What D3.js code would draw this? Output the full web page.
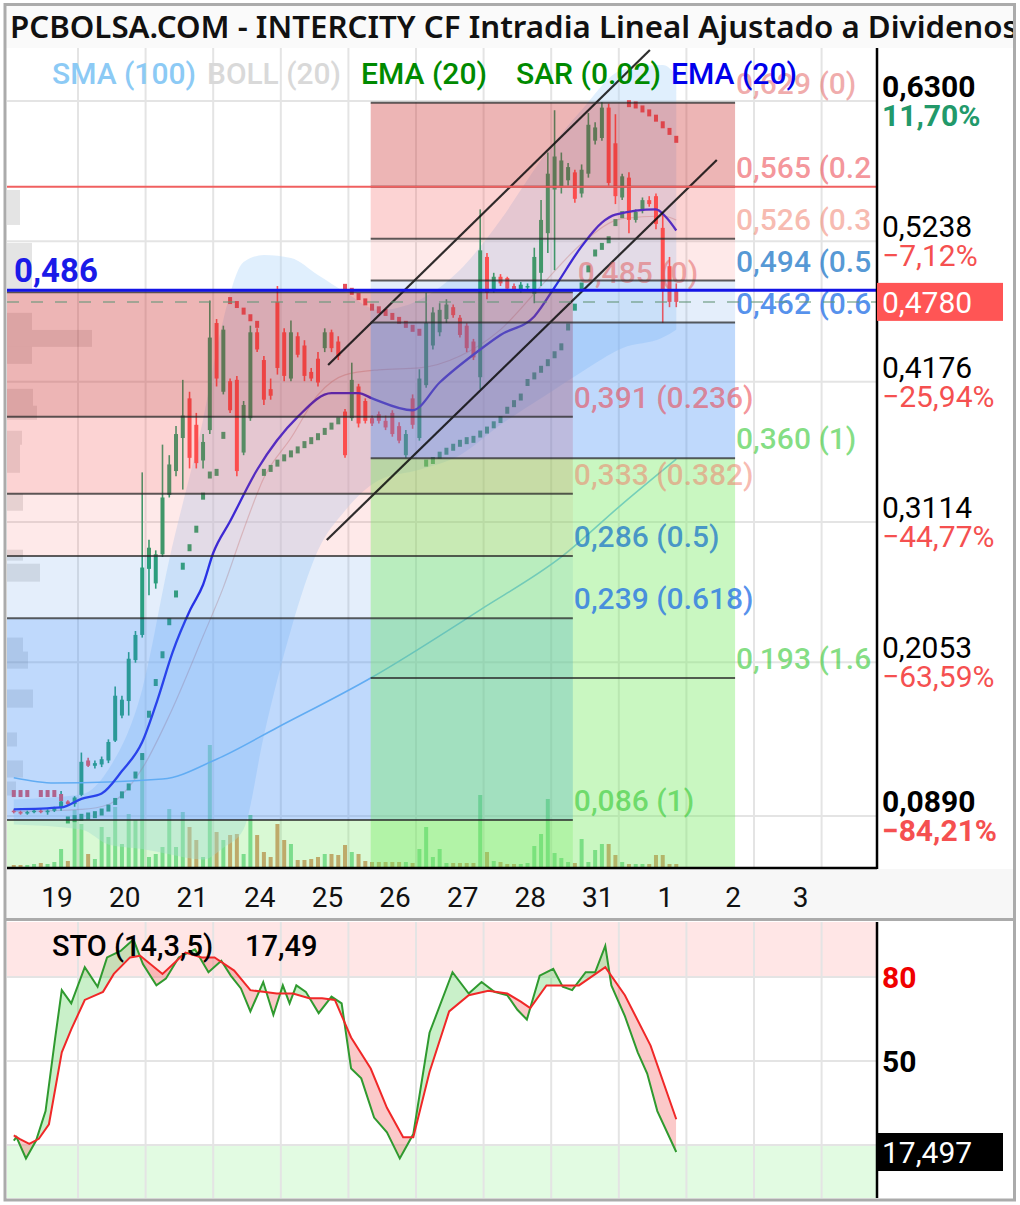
<!DOCTYPE html>
<html>
<head>
<meta charset="utf-8">
<script src="https://cdn.jsdelivr.net/npm/d3@7"></script>
<style>
body { margin: 0; background: #fff; }
svg { display: block; font-family: Roboto, sans-serif; }
</style>
</head>
<body>
<div id="chart"></div>
<script>
var days = ["19", "20", "21", "24", "25", "26", "27", "28", "31", "1", "2", "3"];

// intraday bars, 10 per day
var open = [.093,.092,.091,.092,.093,.092,.093,.095,.100,.098, .105,.131,.127,.128,.131,.146,.165,.176,.207,.226,
  .276,.265,.287,.332,.350,.375,.405,.385,.358,.381, .462,.410,.418,.419,.364,.390,.455,.434,.412,.478,
  .455,.420,.452,.445,.425,.435,.443,.455,.448,.395, .390,.414,.403,.390,.393,.388,.394,.384,.362,.405,
  .375,.415,.445,.455,.465,.474,.466,.460,.448,.421, .512,.487,.497,.496,.490,.487,.489,.484,.500,.530,
  .563,.565,.570,.576,.560,.575,.600,.602,.625,.598, .557,.572,.540,.548,.555,.558,.534,.505,.487];
var high = [.094,.093,.093,.094,.095,.094,.096,.108,.101,.104, .137,.133,.131,.134,.147,.187,.180,.213,.229,.349,
  .298,.290,.370,.362,.384,.419,.410,.394,.378,.479, .465,.460,.420,.422,.403,.460,.458,.437,.420,.490,
  .458,.464,.455,.449,.428,.440,.458,.457,.452,.397, .432,.416,.405,.392,.395,.392,.396,.387,.381,.408,
  .427,.485,.474,.477,.480,.476,.468,.462,.450,.548, .515,.500,.499,.497,.492,.493,.492,.519,.555,.591,
  .623,.591,.583,.578,.582,.621,.614,.629,.628,.620, .575,.576,.548,.557,.558,.560,.545,.512,.492];
var low = [.091,.090,.090,.091,.091,.090,.092,.093,.097,.096, .104,.126,.125,.126,.129,.145,.163,.165,.205,.224,
  .256,.261,.285,.330,.346,.336,.352,.352,.352,.378, .414,.408,.394,.346,.362,.388,.440,.400,.404,.423,
  .418,.418,.436,.418,.418,.414,.440,.440,.434,.360, .388,.383,.386,.384,.386,.381,.376,.371,.360,.382,
  .373,.413,.442,.452,.462,.466,.451,.440,.434,.412, .480,.485,.490,.487,.486,.485,.487,.477,.490,.515,
  .502,.560,.566,.553,.557,.572,.597,.600,.566,.552, .555,.530,.538,.545,.550,.533,.462,.474,.474];
var close = [.092,.091,.092,.093,.092,.093,.095,.100,.098,.103, .130,.127,.129,.132,.145,.180,.177,.208,.226,.277,
  .292,.287,.330,.355,.378,.392,.360,.356,.372,.451, .420,.457,.396,.350,.400,.455,.442,.404,.407,.428,
  .422,.455,.438,.422,.420,.417,.455,.443,.437,.362, .419,.386,.388,.386,.388,.383,.378,.373,.378,.385,
  .420,.462,.470,.472,.476,.468,.453,.443,.436,.517, .485,.497,.492,.488,.487,.491,.490,.512,.540,.575,
  .588,.585,.580,.556,.578,.612,.610,.625,.568,.558, .573,.540,.546,.555,.552,.537,.487,.478,.478];
var volume = [2,2,2,3,4,3,5,18,6,57, 43,13,8,40,30,60,23,53,47,113, 10,13,20,58,20,55,40,27,10,122,
  35,27,32,33,13,52,32,15,10,43, 27,23,7,7,8,10,13,13,12,22, 15,13,6,5,5,5,5,5,5,4,
  18,40,10,18,4,4,4,4,4,72, 15,6,5,3,3,3,4,21,33,68, 14,9,5,4,28,5,17,23,23,12, 5,3,3,3,3,12,12,3,3];
var sar = [.106,.106,.106,null,.106,.106,.106,.103,.086,.087, .088,.089,.090,.092,.095,.100,.105,.111,.120,.134,
  .166,.190,.211,.236,.257,.278,.292,.306,.331,.347, .349,.377,.479,.476,.471,.466,.461,.349,.352,.356,
  .360,.363,.366,.370,.373,.376,.380,.384,.388,.489, .486,.482,.478,.474,.472,.470,.467,.464,.461,.458,
  .455,.356,.358,.362,.365,.368,.371,.373,.374,.378, .381,.385,.389,.396,.401,.406,.417,.422,.427,.432,
  .438,.444,.459,.474,.490,.503,.515,.520,.525,.538, .544,.628,.627,.624,.621,.617,.612,.607,.601];

// indicator lines (bar index, price)
var emaIdx = [0,7,10,13,16,19,21.2,23.5,26.1,28,29.5,32,36,42,47,51,53,59,63,69,72,77,80,84,87,89,95,96.5,98];
var emaVal = [.094,.0955,.102,.106,.123,.145,.176,.213,.245,.264,.288,.312,.351,.391,.409,.409,.405,.396,.417,.442,.453,.467,.489,.520,.538,.544,.548,.542,.532];
var smaIdx = [0,6,22,30,39,53,69,81,90,98];
var smaVal = [.118,.114,.117,.132,.156,.194,.245,.285,.325,.359];
var bbIdx = [0,10,14,19,23,28,31,34,37,41,45,49,54,60,66,72,78,84,90,96,98];
var bbUp = [.1015,.1053,.1242,.1847,.2829,.3888,.4644,.5082,.5135,.5113,.4984,.4855,.4719,.4795,.5022,.5400,.5853,.6231,.6534,.6572,.6496];
var bbMid = [.0924,.094,.0977,.125,.165,.225,.262,.3056,.345,.375,.4077,.4228,.4266,.428,.437,.457,.490,.522,.541,.543,.540];
var bbLow = [.0826,.0788,.0675,.064,.060,.056,.065,.079,.150,.230,.290,.320,.343,.351,.362,.385,.405,.425,.443,.451,.457];

// volume by price (left edge)
var vpLo = [.5362,.4871,.4568,.4440,.4311,.3994,.3888,.3699,.3487,.3200,.2822,.2663,.2134,.2005,.1710,.1416,.1181,.1045];
var vpHi = [.5627,.5226,.4697,.4568,.4440,.4122,.3994,.3805,.3699,.3328,.2905,.2799,.2240,.2134,.1847,.1522,.1310,.1151];
var vpLen = [13,25,25,85,25,26,30,15,13,16,16,33,16,21,26,10,16,9];

// fibonacci retracements
var fibRatios = [0, 0.236, 0.382, 0.5, 0.618, 1, 1.618];
var fibHigh = [0.4853, 0.6286];
var fibLow = [0.086, 0.3596];
var fibCount = [6, 7];
var fibFrom = [-1, 52.8];
var fibTo = [82.7, 106.7];

// trend channel
var chanIdx0 = [46.5, 46.3], chanVal0 = [0.4302, 0.2978];
var chanIdx1 = [94.1, 104.0], chanVal1 = [0.6686, 0.5854];

var hLineVal = [0.486, 0.5651];
var lastPrice = 0.478;

var yTicks = [0.6300, 0.5238, 0.4176, 0.3114, 0.2053, 0.0890];
var yPct = [11.70, -7.12, -25.94, -44.77, -63.59, -84.21];

// stochastic (bar index, value)
var kIdx = [0,0.4,1.8,3.3,4.7,6.1,7.1,8.5,10.5,12.4,13.8,15.8,17.7,19.1,21.1,22.5,24.4,26.8,28.8,30.7,32.1,33.6,35,36.9,38.4,39.8,40.8,41.8,43.2,45.1,47,48.5,49.9,51.4,53.3,55.2,57.1,59.1,61.5,64.9,67.3,69.2,71.1,73,74.5,75.9,77.8,79.8,81.2,82.6,84.6,86,87.5,88.4,90.4,92.3,93.7,95.2,98];
var kVal = [21.6,22.8,15.2,21.6,32.1,57.8,75.3,70.6,83.5,76.5,87.0,89.3,93.4,84.6,77.0,79.4,87.0,89.9,81.7,85.8,80.5,75.9,67.7,78.2,66.5,77.0,70.6,77.0,74.7,67.1,73.0,70.6,47.3,43.8,29.8,24.5,15.2,23.9,60.1,81.7,74.1,78.2,74.7,73.5,68.3,64.8,80.5,82.9,76.5,75.3,81.7,81.7,91.1,77.0,66.0,53.1,45.5,32.1,17.497];
var dIdx = [0,0.85,2.3,3.7,5.2,7.1,8.5,10.5,13.2,14.8,17.2,18.7,22,25.4,27.8,29.7,32.6,35,36.9,38.9,41.3,43.7,45.6,47.5,49.9,52.8,55.2,57.6,59.1,61.5,64.4,67.3,70.2,73,75,76.4,78.8,81.2,83.6,87.5,90.4,94.2,98];
var dVal = [23.4,22.2,20.4,22.2,27.4,53.1,61.3,71.8,74.7,81.1,87.0,87.6,81.1,88.7,87.0,87.0,82.3,75.3,74.7,74.1,74.1,72.4,72.4,71.8,58.4,47.3,33.3,22.8,22.8,46.1,67.7,73.5,75.1,74.1,71.2,68.9,77.0,77.0,77.0,83.5,73.5,55.5,29.2];
var stoTicks = [80, 50, 20];

// ---- layout
var width = 1020, height = 1205;
var plotL = 7, plotR = 877, plotT = 48, plotB = 868;
var stT = 922, stB = 1198;

var zoneFill = ["rgba(205,50,50,0.36)", "rgba(245,80,80,0.25)", "rgba(245,100,100,0.14)",
  "rgba(90,150,230,0.16)", "rgba(60,140,245,0.33)", "rgba(120,235,100,0.4)"];
var tailFill = ["rgba(120,235,100,0.28)", "rgba(120,235,100,0.4)"];
var labelColor = ["rgba(225,90,90,0.5)", "rgba(235,60,70,0.55)", "rgba(240,120,100,0.5)",
  "rgba(30,120,200,0.75)", "rgba(30,110,230,0.75)", "rgba(50,200,50,0.6)", "rgba(50,200,50,0.6)"];
var upColor = "#22a06b", downColor = "#ff4d4d";

var comma = function (s) { return s.replace(".", ","); };

var x = d3.scaleLinear().domain([-0.5, 119.5]).range([10.4, 821.6]);
var y = d3.scaleLinear().domain([0.0890, 0.6300]).range([816, 101]);
var yv = d3.scaleLinear().domain([0, 125]).range([867, 742]);
var ys = d3.scaleLinear().domain([0, 100]).range([1201, 921]);

var svg = d3.select("#chart").append("svg").attr("width", width).attr("height", height);
var defs = svg.append("defs");
defs.append("clipPath").attr("id", "clipMain").append("rect")
  .attr("x", plotL).attr("y", plotT).attr("width", plotR - plotL).attr("height", plotB - plotT);
defs.append("clipPath").attr("id", "clipSto").append("rect")
  .attr("x", plotL).attr("y", stT).attr("width", plotR - plotL).attr("height", stB - stT);
defs.append("clipPath").attr("id", "clipTitle").append("rect")
  .attr("x", 5).attr("y", 5).attr("width", 1008).attr("height", 43);

svg.append("rect").attr("width", width).attr("height", height).attr("fill", "#fff");
svg.append("rect").attr("x", 5).attr("y", 5).attr("width", 1010).attr("height", 43).attr("fill", "#fafafa");
svg.append("rect").attr("x", plotL).attr("y", 869).attr("width", 1007).attr("height", 49).attr("fill", "#f7f7f7");

var main = svg.append("g").attr("clip-path", "url(#clipMain)");

// grid
var dayLines = d3.range(1, 13).map(function (k) { return x(10 * k - 0.5); });
main.selectAll(".vg").data(dayLines).enter().append("line")
  .attr("x1", function (d) { return d; }).attr("x2", function (d) { return d; })
  .attr("y1", plotT).attr("y2", plotB).attr("stroke", "#e4e4e4").attr("stroke-width", 2);
main.selectAll(".hg").data(yTicks).enter().append("line")
  .attr("x1", plotL).attr("x2", plotR)
  .attr("y1", function (d) { return y(d); }).attr("y2", function (d) { return y(d); })
  .attr("stroke", "#e4e4e4").attr("stroke-width", 2);

// volume by price
main.selectAll(".vp").data(vpLen).enter().append("rect")
  .attr("x", plotL).attr("width", function (d) { return d; })
  .attr("y", function (d, i) { return y(vpHi[i]); })
  .attr("height", function (d, i) { return y(vpLo[i]) - y(vpHi[i]); })
  .attr("fill", "rgba(120,120,120,0.2)");

// volume
main.selectAll(".vol").data(volume).enter().append("rect")
  .attr("x", function (d, i) { return x(i) - 2; }).attr("width", 4)
  .attr("y", function (d) { return yv(d); })
  .attr("height", function (d) { return yv(0) - yv(d); })
  .attr("fill", function (d, i) { return close[i] >= open[i] ? "rgba(40,190,90,0.6)" : "rgba(205,110,60,0.75)"; });

// bollinger
var bbArea = d3.area().curve(d3.curveMonotoneX)
  .x(function (d) { return x(d); })
  .y0(function (d, i) { return y(bbLow[i]); })
  .y1(function (d, i) { return y(bbUp[i]); });
main.append("path").attr("d", bbArea(bbIdx)).attr("fill", "rgba(180,218,250,0.42)");
main.append("path")
  .attr("d", d3.line().curve(d3.curveMonotoneX).x(function (d) { return x(d); })
    .y(function (d, i) { return y(bbMid[i]); })(bbIdx))
  .attr("fill", "none").attr("stroke", "rgba(190,130,130,0.4)").attr("stroke-width", 1.2);

// candles
var candle = main.selectAll(".c").data(close).enter().append("g");
candle.append("line")
  .attr("x1", function (d, i) { return x(i); }).attr("x2", function (d, i) { return x(i); })
  .attr("y1", function (d, i) { return y(high[i]); }).attr("y2", function (d, i) { return y(low[i]); })
  .attr("stroke", function (d, i) { return d >= open[i] ? upColor : downColor; })
  .attr("stroke-width", 1.6);
candle.append("rect")
  .attr("x", function (d, i) { return x(i) - 2; }).attr("width", 4)
  .attr("y", function (d, i) { return y(Math.max(d, open[i])); })
  .attr("height", function (d, i) { return Math.max(1.5, Math.abs(y(d) - y(open[i]))); })
  .attr("fill", function (d, i) { return d >= open[i] ? upColor : downColor; });

// parabolic SAR
sar.forEach(function (s, i) {
  if (s === null) return;
  main.append("rect").attr("x", x(i) - 2).attr("y", y(s) - 3.5).attr("width", 4).attr("height", 7)
    .attr("fill", s > close[i] ? "#e8505a" : "#2e9e6e");
});

// moving averages
var lineOf = function (idx, val) {
  return d3.line().curve(d3.curveMonotoneX)
    .x(function (d) { return x(d); }).y(function (d, i) { return y(val[i]); })(idx);
};
main.append("path").attr("d", lineOf(smaIdx, smaVal))
  .attr("fill", "none").attr("stroke", "#74bdf2").attr("stroke-width", 1.6);
main.append("path").attr("d", lineOf(emaIdx, emaVal))
  .attr("fill", "none").attr("stroke", "#2020e6").attr("stroke-width", 2.3);

// fibonacci zones
fibHigh.forEach(function (hi, f) {
  var lo = fibLow[f];
  var lv = fibRatios.slice(0, fibCount[f]).map(function (r) { return hi - r * (hi - lo); });
  var x0 = x(fibFrom[f]), x1 = x(fibTo[f]);
  for (var k = 0; k < lv.length - 1; k++) {
    main.append("rect").attr("x", x0).attr("width", x1 - x0)
      .attr("y", y(lv[k])).attr("height", y(lv[k + 1]) - y(lv[k])).attr("fill", zoneFill[k]);
  }
  main.append("rect").attr("x", x0).attr("width", x1 - x0)
    .attr("y", y(lv[lv.length - 1])).attr("height", plotB - y(lv[lv.length - 1])).attr("fill", tailFill[f]);
});

// channel
[0, 1].forEach(function (c) {
  main.append("line")
    .attr("x1", x(chanIdx0[c])).attr("y1", y(chanVal0[c]))
    .attr("x2", x(chanIdx1[c])).attr("y2", y(chanVal1[c]))
    .attr("stroke", "rgba(10,10,10,0.85)").attr("stroke-width", 2.2);
});

// fib lines + labels (labels cut at the price axis, like the original)
fibHigh.forEach(function (hi, f) {
  var lo = fibLow[f];
  var x0 = x(fibFrom[f]), x1 = x(fibTo[f]);
  fibRatios.slice(0, fibCount[f]).forEach(function (r, k) {
    var v = hi - r * (hi - lo);
    main.append("line").attr("x1", x0).attr("x2", x1).attr("y1", y(v)).attr("y2", y(v))
      .attr("stroke", "rgba(40,40,40,0.75)").attr("stroke-width", 2);
    var lx = x1 + 1 + (r === 0 && f === 0 ? 4 : 0);
    var str = comma(d3.format(".3f")(v)) + " (" + r + ")";
    var t = main.append("text").attr("x", lx).attr("y", y(v) - 9)
      .attr("font-size", 30).attr("font-weight", 500).attr("fill", labelColor[k]).text(str);
    while (str.length > 1 && lx + t.node().getComputedTextLength() > plotR + 4) {
      str = str.slice(0, -1);
      t.text(str);
    }
  });
});

// dashed last price
main.append("line").attr("x1", plotL).attr("x2", plotR).attr("y1", y(lastPrice)).attr("y2", y(lastPrice))
  .attr("stroke", "rgba(100,150,120,0.55)").attr("stroke-width", 2).attr("stroke-dasharray", "12,12");

// horizontal lines
main.append("line").attr("x1", plotL).attr("x2", plotR).attr("y1", y(hLineVal[1])).attr("y2", y(hLineVal[1]))
  .attr("stroke", "#f06060").attr("stroke-width", 2);
main.append("line").attr("x1", plotL).attr("x2", plotR).attr("y1", y(hLineVal[0]) - 1).attr("y2", y(hLineVal[0]) - 1)
  .attr("stroke", "#1414e6").attr("stroke-width", 3);
main.append("text").attr("x", 14).attr("y", y(hLineVal[0]) - 9)
  .attr("font-size", 33).attr("font-weight", 700).attr("fill", "#1a1ae8")
  .text(comma(d3.format(".3f")(hLineVal[0])));

// legend
var legend = [
  { t: "SMA (100)", c: "#8ccaf5", x: 52, w: 144 },
  { t: "BOLL (20)", c: "#d9d9d9", x: 207, w: 134 },
  { t: "EMA (20)", c: "#008a00", x: 361, w: 126 },
  { t: "SAR (0.02)", c: "#008a00", x: 516, w: 145 },
  { t: "EMA (20)", c: "#0000eb", x: 671, w: 126 }
];
svg.selectAll(".lg").data(legend).enter().append("text")
  .attr("x", function (d) { return d.x; }).attr("y", 84)
  .attr("font-size", 30).attr("font-weight", 500)
  .attr("textLength", function (d) { return d.w; }).attr("lengthAdjust", "spacingAndGlyphs")
  .attr("fill", function (d) { return d.c; }).text(function (d) { return d.t; });

// axes frame
svg.append("line").attr("x1", plotL).attr("x2", plotR).attr("y1", plotB).attr("y2", plotB)
  .attr("stroke", "#000").attr("stroke-width", 2.5);
svg.append("line").attr("x1", plotR).attr("x2", plotR).attr("y1", plotT).attr("y2", plotB + 1)
  .attr("stroke", "#000").attr("stroke-width", 2.5);

// right axis labels
yTicks.forEach(function (t, i) {
  var bold = i === 0 || i === yTicks.length - 1;
  svg.append("text").attr("x", 882).attr("y", y(t) - 4).attr("font-size", 30)
    .attr("font-weight", bold ? 700 : 400).attr("fill", "#000")
    .text(comma(d3.format(".4f")(t)));
  svg.append("text").attr("x", 882).attr("y", y(t) + 25).attr("font-size", 30)
    .attr("font-weight", bold ? 700 : 400).attr("fill", yPct[i] >= 0 ? "#22996a" : "#f55050")
    .text(comma(d3.format(".2f")(yPct[i])) + "%");
});
svg.append("rect").attr("x", plotR).attr("y", y(lastPrice) - 19).attr("width", 126).attr("height", 38)
  .attr("fill", "#ff5555");
svg.append("text").attr("x", 882).attr("y", y(lastPrice) + 11).attr("font-size", 30).attr("fill", "#fff")
  .text(comma(d3.format(".4f")(lastPrice)));

// x labels
svg.selectAll(".xl").data(days).enter().append("text")
  .attr("x", function (d, i) { return x(10 * i + 6.4); }).attr("y", 907)
  .attr("text-anchor", "middle").attr("font-size", 28).attr("fill", "#111")
  .text(function (d) { return d; });

// ---- stochastic panel
var sto = svg.append("g").attr("clip-path", "url(#clipSto)");
sto.append("rect").attr("x", plotL).attr("width", plotR - plotL).attr("y", stT)
  .attr("height", ys(80) - stT).attr("fill", "#ffe6e6");
sto.append("rect").attr("x", plotL).attr("width", plotR - plotL).attr("y", ys(20))
  .attr("height", stB - ys(20)).attr("fill", "#e2fbe2");
sto.selectAll(".svg").data(dayLines).enter().append("line")
  .attr("x1", function (d) { return d; }).attr("x2", function (d) { return d; })
  .attr("y1", stT).attr("y2", stB).attr("stroke", "#e4e4e4").attr("stroke-width", 2);
sto.selectAll(".shg").data(stoTicks).enter().append("line")
  .attr("x1", plotL).attr("x2", plotR)
  .attr("y1", function (d) { return ys(d); }).attr("y2", function (d) { return ys(d); })
  .attr("stroke", "#e4e4e4").attr("stroke-width", 2);

var kPts = kIdx.map(function (d, i) { return [x(d), ys(kVal[i])]; });
var dPts = dIdx.map(function (d, i) { return [x(d), ys(dVal[i])]; });
var ln = d3.line();
var dPath = ln(dPts);
var xFirst = dPts[0][0], xLast = dPts[dPts.length - 1][0];
defs.append("clipPath").attr("id", "aboveD").append("path")
  .attr("d", dPath + "L" + xLast + "," + stT + "L" + xFirst + "," + stT + "Z");
defs.append("clipPath").attr("id", "belowD").append("path")
  .attr("d", dPath + "L" + xLast + "," + stB + "L" + xFirst + "," + stB + "Z");
var between = ln(kPts.concat(dPts.slice().reverse())) + "Z";
sto.append("g").attr("clip-path", "url(#aboveD)").append("path").attr("d", between)
  .attr("fill", "rgba(60,200,60,0.28)");
sto.append("g").attr("clip-path", "url(#belowD)").append("path").attr("d", between)
  .attr("fill", "rgba(240,60,60,0.28)");
sto.append("path").attr("d", ln(kPts)).attr("fill", "none").attr("stroke", "#2f9a2f").attr("stroke-width", 2);
sto.append("path").attr("d", dPath).attr("fill", "none").attr("stroke", "#f02828").attr("stroke-width", 2);

var lastK = kVal[kVal.length - 1];
svg.append("text").attr("x", 52).attr("y", 956).attr("font-size", 29).attr("font-weight", 500)
  .attr("fill", "#000").text("STO (14,3,5)");
svg.append("text").attr("x", 245).attr("y", 956).attr("font-size", 29).attr("font-weight", 500)
  .attr("fill", "#000").text(comma(String(Math.floor(lastK * 100) / 100)));

svg.append("line").attr("x1", plotR).attr("x2", plotR).attr("y1", stT).attr("y2", stB)
  .attr("stroke", "#000").attr("stroke-width", 2.5);
svg.append("text").attr("x", 882).attr("y", ys(80) + 11).attr("font-size", 30).attr("font-weight", 700)
  .attr("fill", "#f00000").text("80");
svg.append("text").attr("x", 882).attr("y", ys(50) + 11).attr("font-size", 30).attr("font-weight", 700)
  .attr("fill", "#000").text("50");
svg.append("rect").attr("x", plotR).attr("y", ys(lastK) - 19).attr("width", 126).attr("height", 38).attr("fill", "#000");
svg.append("text").attr("x", 882).attr("y", ys(lastK) + 11).attr("font-size", 30).attr("fill", "#fff")
  .text(comma(d3.format(".3f")(lastK)));

// title
svg.append("g").attr("clip-path", "url(#clipTitle)").append("text")
  .attr("x", 10).attr("y", 38).attr("font-family", "'Noto Sans', sans-serif")
  .attr("font-size", 31).attr("font-weight", 600)
  .attr("textLength", 1008).attr("lengthAdjust", "spacingAndGlyphs")
  .attr("fill", "#111").text("PCBOLSA.COM - INTERCITY CF Intradia Lineal Ajustado a Dividenos");

// outer frame
svg.append("rect").attr("x", 5).attr("y", 4.5).attr("width", 1009.5).attr("height", 1195.5)
  .attr("fill", "none").attr("stroke", "#ababab").attr("stroke-width", 3);
svg.append("line").attr("x1", 5).attr("x2", 1015).attr("y1", 919.5).attr("y2", 919.5)
  .attr("stroke", "#ababab").attr("stroke-width", 3);
</script>
</body>
</html>
